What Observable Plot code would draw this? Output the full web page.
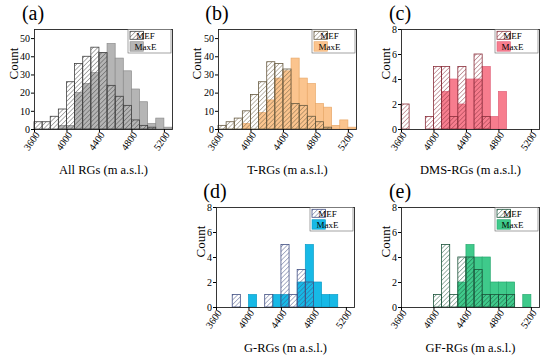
<!DOCTYPE html>
<html><head><meta charset="utf-8">
<script src="https://cdn.jsdelivr.net/npm/d3@7"></script>
<script src="https://cdn.jsdelivr.net/npm/@observablehq/plot@0.6"></script>
<style>
body{margin:0;background:#fff;}
#wrap{position:relative;width:550px;height:357px;overflow:hidden;background:#fff;}
#wrap svg{position:absolute;}
</style></head><body><div id="wrap"></div>
<script>
// bin starts (100 m bins)
const bins = [3600,3700,3800,3900,4000,4100,4200,4300,4400,4500,4600,4700,4800,4900,5000,5100,5200];
const binWidth = 100;
const xTicks = [3600,4000,4400,4800,5200];
const yTicksBig = [0,10,20,30,40,50];
const yTicksSmall = [0,2,4,6,8];

// (a) All RGs
const mefA  = [4,4,7,11,26,36,40,45,42,24,18,13,5,2,1,0,0];
const maxeA = [0,0,0,2,2,20,25,31,42,47,39,32,22,15,3,6,1];
// (b) T-RGs
const mefB  = [2,4,6,10,19,26,37,36,33,14,13,7,4,1,0,0,0];
const maxeB = [0,0,0,3,0,9,16,28,32,39,28,25,14,12,2,5,1];
// (c) DMS-RGs
const mefC  = [2,0,0,1,5,5,1,5,0,6,1,0,0,0,0,0,0];
const maxeC = [0,0,0,0,0,3,4,2,4,4,5,1,3,0,0,0,0];
// (d) G-RGs
const mefD  = [0,0,1,0,0,0,1,0,5,1,3,2,0,0,0,0,0];
const maxeD = [0,0,0,0,1,0,0,1,1,0,2,5,2,1,1,0,0];
// (e) GF-RGs
const mefE  = [0,0,0,0,1,5,1,4,4,3,1,1,1,1,0,0,0];
const maxeE = [0,0,0,0,0,0,0,2,5,4,4,2,2,2,0,1,0];

const panels = [
  {id:"a", letter:"(a)", xlabel:"All RGs (m a.s.l.)",  mef:mefA, maxe:maxeA, yMax:55, yTicks:yTicksBig,
   fill:"#b5b5b5", stroke:"#8c8c8c", hatch:"#404040", left:0,   top:0,   yoff:-21},
  {id:"b", letter:"(b)", xlabel:"T-RGs (m a.s.l.)",    mef:mefB, maxe:maxeB, yMax:55, yTicks:yTicksBig,
   fill:"#fbc48e", stroke:"#e9a96a", hatch:"#675a40", left:184, top:0,   yoff:-22},
  {id:"c", letter:"(c)", xlabel:"DMS-RGs (m a.s.l.)",  mef:mefC, maxe:maxeC, yMax:8,  yTicks:yTicksSmall,
   fill:"#f77d8e", stroke:"#e0627a", hatch:"#8a2f3b", left:367, top:0,   yoff:-16},
  {id:"d", letter:"(d)", xlabel:"G-RGs (m a.s.l.)",    mef:mefD, maxe:maxeD, yMax:8,  yTicks:yTicksSmall,
   fill:"#17b9e6", stroke:"#0a9cc8", hatch:"#435184", left:182, top:178, yoff:-16},
  {id:"e", letter:"(e)", xlabel:"GF-RGs (m a.s.l.)",   mef:mefE, maxe:maxeE, yMax:8,  yTicks:yTicksSmall,
   fill:"#3fca8b", stroke:"#27a86f", hatch:"#1b533a", left:367, top:178, yoff:-16}
];

const W = 183, H = 179, mL = 34, mR = 11, mT = 29, mB = 50;
const FONT = "'Liberation Serif','Times New Roman',serif";
const wrap = document.getElementById("wrap");

for (const p of panels) {
  const rows = bins.map((b, i) => ({x1: b, x2: b + binWidth, mef: p.mef[i], maxe: p.maxe[i]}));
  const svg = Plot.plot({
    width: W, height: H,
    marginLeft: mL, marginRight: mR, marginTop: mT, marginBottom: mB,
    style: {fontFamily: FONT, fontSize: "10px", color: "#000", background: "transparent", overflow: "visible"},
    x: {domain: [3600, 5300]},
    y: {domain: [0, p.yMax]},
    marks: [
      Plot.rect(rows.filter(d => d.maxe > 0), {x1: "x1", x2: "x2", y1: () => 0, y2: "maxe", inset: 0,
        fill: p.fill, stroke: p.stroke, strokeWidth: 0.7}),
      Plot.rect(rows.filter(d => d.mef > 0), {x1: "x1", x2: "x2", y1: () => 0, y2: "mef", inset: 0,
        fill: `url(#hatch-${p.id})`, stroke: p.hatch, strokeWidth: 0.8}),
      Plot.frame({stroke: "#222", strokeWidth: 0.9}),
      Plot.axisY({ticks: p.yTicks, tickSize: 3, tickPadding: 1.5, label: null, fontSize: 10}),
      Plot.axisX({ticks: xTicks, tickSize: 3, tickFormat: () => "", label: null}),
      Plot.text(xTicks, {x: d => d, text: d => String(d), frameAnchor: "bottom", dy: 13.5, rotate: -55,
        textAnchor: "middle", fontSize: 10, fill: "#000"}),
      Plot.text([p.xlabel], {frameAnchor: "bottom", dy: 44.5, lineAnchor: "bottom", fontSize: 12.5, fill: "#000"}),
      Plot.text(["Count"], {frameAnchor: "left", dx: p.yoff, rotate: -90, fontSize: 13, fill: "#000"})
    ]
  });
  svg.style.left = p.left + "px";
  svg.style.top = p.top + "px";
  const s = d3.select(svg);
  const defs = s.insert("defs", ":first-child");
  const pat = defs.append("pattern").attr("id", "hatch-" + p.id)
    .attr("patternUnits", "userSpaceOnUse").attr("width", 3.2).attr("height", 3.2)
    .attr("patternTransform", "rotate(45)");
  pat.append("line").attr("x1", 0).attr("y1", 0).attr("x2", 0).attr("y2", 3.2)
    .attr("stroke", p.hatch).attr("stroke-width", 0.85);

  // legend (top-right inside frame)
  const fr = W - mR;
  const lg = s.append("g").attr("transform", `translate(${fr - 44},${mT + 0.5})`);
  lg.append("rect").attr("width", 43).attr("height", 23.5).attr("fill", "white")
    .attr("stroke", "#666").attr("stroke-width", 0.6);
  lg.append("rect").attr("x", 2).attr("y", 1.8).attr("width", 13.5).attr("height", 8)
    .attr("fill", `url(#hatch-${p.id})`).attr("stroke", p.hatch).attr("stroke-width", 0.8);
  lg.append("rect").attr("x", 2).attr("y", 12.2).attr("width", 13.5).attr("height", 9.5)
    .attr("fill", p.fill).attr("stroke", p.stroke).attr("stroke-width", 0.6);
  lg.append("text").attr("x", 17.5).attr("y", 6).attr("dy", "0.35em").text("MEF")
    .style("font-family", FONT).style("font-size", "9px").attr("fill", "#000");
  lg.append("text").attr("x", 17.5).attr("y", 17).attr("dy", "0.35em").text("MaxE")
    .style("font-family", FONT).style("font-size", "9px").attr("fill", "#000");

  // panel letter
  s.append("text").attr("x", mL - 1).attr("y", mT - 9).text(p.letter)
    .style("font-family", FONT).style("font-size", "20px").attr("fill", "#000");

  wrap.appendChild(svg);
}
</script>
</body></html>
